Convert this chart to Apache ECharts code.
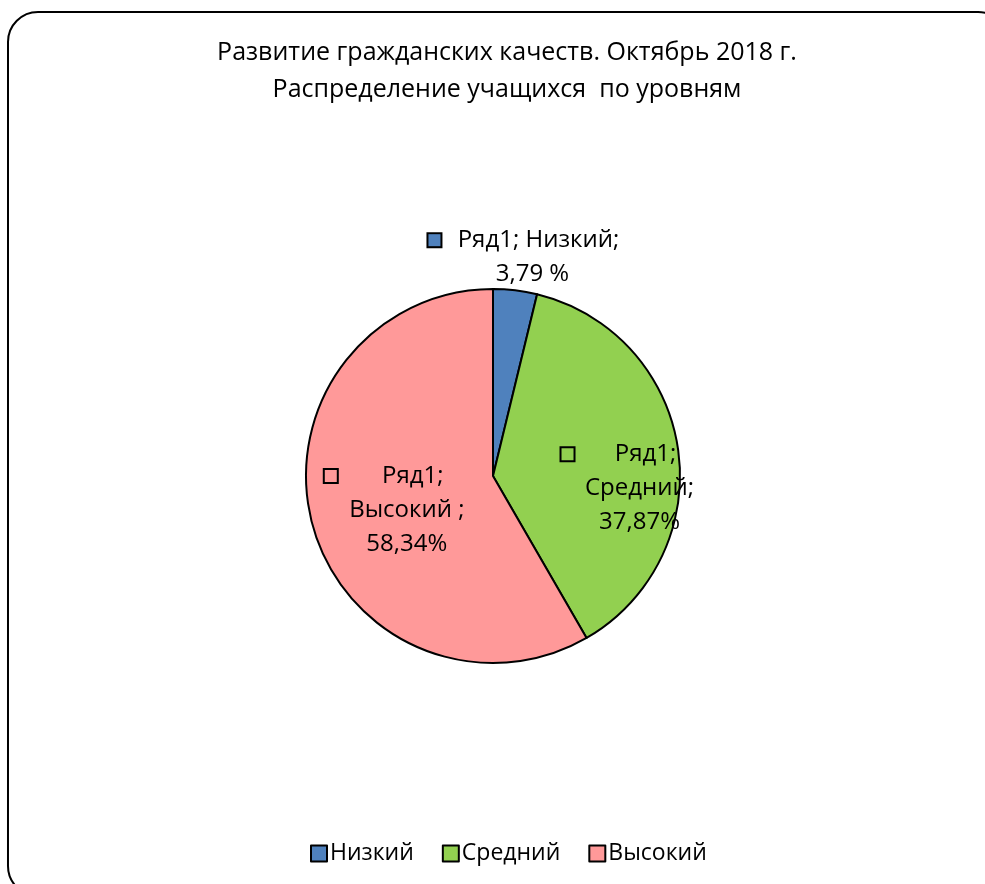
<!DOCTYPE html>
<html>
<head>
<meta charset="utf-8">
<script src="https://cdn.jsdelivr.net/npm/echarts@6/dist/echarts.min.js"></script>
<style>
  html, body { margin: 0; padding: 0; background: #fff; }
  #chart { width: 985px; height: 884px; }
</style>
</head>
<body>
<div id="chart"></div>
<script>
  const categories = ['Низкий', 'Средний', 'Высокий'];
  const values = [3.79, 37.87, 58.34];
  const valueTexts = ['3,79 %', '37,87%', '58,34%'];
  const nameTexts = ['Низкий;', 'Средний;', 'Высокий ;'];
  const colors = ['#4F81BD', '#92D050', '#FF9999'];

  const font = '"Open Sans", "Noto Sans", sans-serif';

  // label block widths and offsets from the default inside position
  const blockW = [212, 160, 168];
  const labelShift = [[28, -123], [51, 26], [7, 9]];

  function labelRich(i) {
    const w = blockW[i];
    const base = { fontSize: 24, color: '#000', fontFamily: font, lineHeight: 34, align: 'center' };
    return {
      sq: { width: 12, height: 12, borderColor: '#000', borderWidth: 2, backgroundColor: colors[i] },
      first: Object.assign({ width: w - 16 }, base),
      line: Object.assign({ width: w }, base),
    };
  }

  const pieData = categories.map(function (c, i) {
    return {
      name: c,
      value: values[i],
      itemStyle: { color: colors[i] },
      label: { rich: labelRich(i) },
    };
  });

  const option = {
    animation: false,
    backgroundColor: '#fff',
    color: colors,
    title: {
      text: 'Развитие гражданских качеств. Октябрь 2018 г.\nРаспределение учащихся  по уровням',
      left: 502,
      textAlign: 'center',
      top: 29,
      textStyle: { fontSize: 25, fontWeight: 'normal', color: '#000', fontFamily: font, lineHeight: 37 },
    },
    legend: {
      bottom: 14,
      left: 305,
      itemWidth: 16,
      itemHeight: 16,
      itemGap: 28,
      icon: 'rect',
      itemStyle: { borderColor: '#000', borderWidth: 2 },
      textStyle: { fontSize: 23, color: '#000', fontFamily: font, padding: [0, 0, 0, -2] },
      data: categories,
    },
    graphic: [
      {
        type: 'rect',
        shape: { x: 8, y: 12, width: 1000, height: 884, r: 30 },
        style: { fill: 'none', stroke: '#000', lineWidth: 2 },
        silent: true,
      },
    ],
    series: [
      {
        type: 'pie',
        center: [493, 476],
        radius: 187,
        startAngle: 90,
        clockwise: true,
        data: pieData,
        itemStyle: { borderColor: '#000', borderWidth: 2 },
        labelLine: { show: false },
        label: {
          show: true,
          position: 'inside',
          formatter: function (p) {
            const i = p.dataIndex;
            if (i === 0) {
              return '{sq|}{first|Ряд1; ' + nameTexts[i] + '}\n{line|' + valueTexts[i] + '}';
            }
            return '{sq|}{first|Ряд1;}\n{line|' + nameTexts[i] + '}\n{line|' + valueTexts[i] + '}';
          },
        },
        labelLayout: function (p) {
          const s = labelShift[p.dataIndex];
          return { dx: s[0], dy: s[1] };
        },
      },
    ],
  };

  const chart = echarts.init(document.getElementById('chart'));
  chart.setOption(option);
</script>
</body>
</html>
